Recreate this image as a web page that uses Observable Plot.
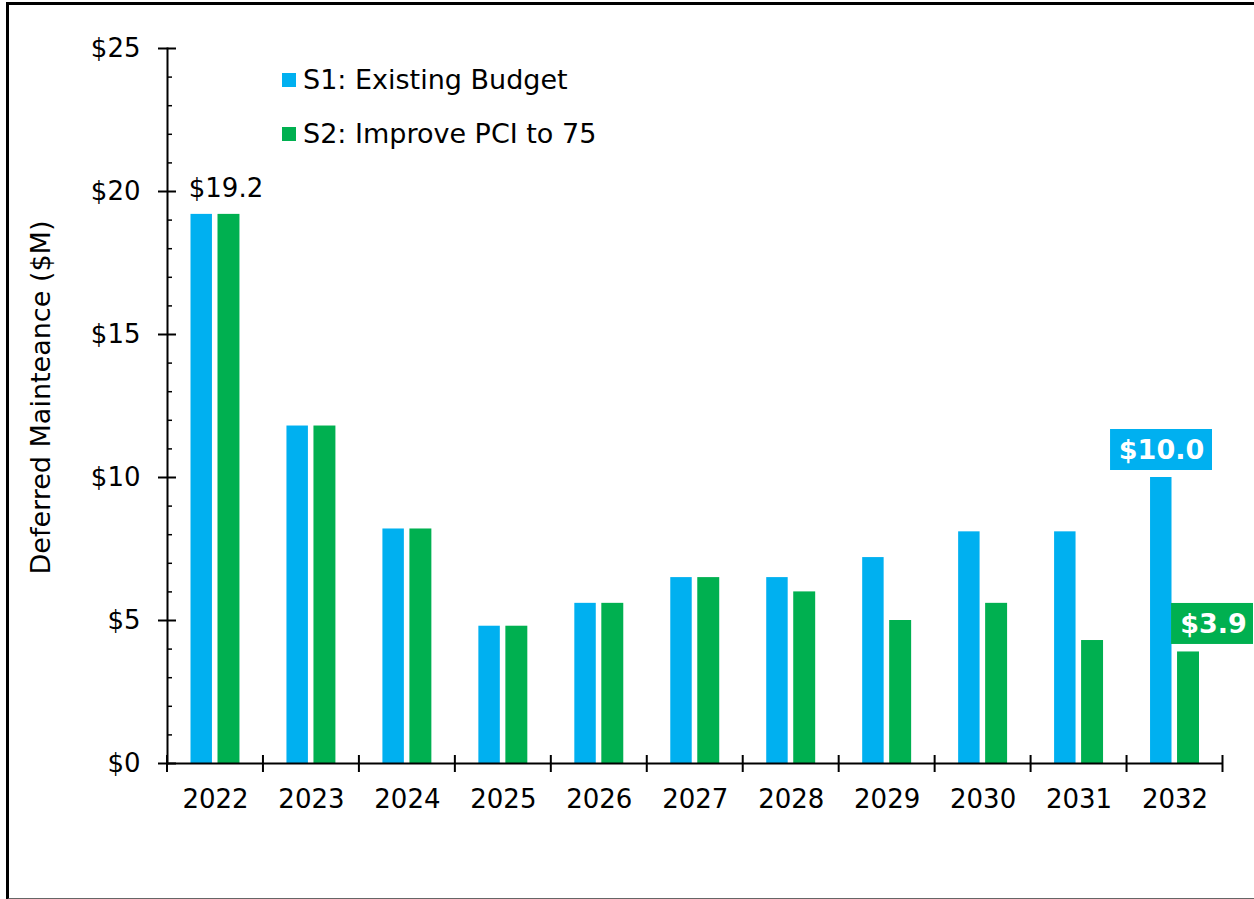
<!DOCTYPE html>
<html>
<head>
<meta charset="utf-8">
<script src="https://cdn.jsdelivr.net/npm/d3@7"></script>
<script src="https://cdn.jsdelivr.net/npm/@observablehq/plot@0.6"></script>
<style>
  html, body { margin: 0; padding: 0; background: #fff; }
  body { width: 1254px; height: 899px; position: relative; overflow: hidden; font-family: "DejaVu Sans", Verdana, sans-serif; }
  #frame { position: absolute; left: 6px; top: 2px; width: 1260px; height: 893px;
           border-top: 3px solid #000; border-left: 3px solid #000; border-bottom: 2px solid #666; pointer-events: none; }
  #chart { position: absolute; left: 0; top: 0; }
  .legend { position: absolute; left: 282px; font-size: 27px; line-height: 27px; color: #000; }
  .legend .sw { position: absolute; left: 0; width: 14px; height: 14px; }
  .legend .lab { position: absolute; left: 21px; white-space: nowrap; }
  g[aria-label="y-title"] text { letter-spacing: 1.2px; }
</style>
</head>
<body>
<div id="chart"></div>
<div id="legend"></div>
<div id="frame"></div>
<script>
// ---- data ----
const years = ["2022","2023","2024","2025","2026","2027","2028","2029","2030","2031","2032"];
const seriesNames = ["S1: Existing Budget", "S2: Improve PCI to 75"];
const seriesColors = ["#00B0F0", "#00B050"];
const s1Values = [19.2, 11.8, 8.2, 4.8, 5.6, 6.5, 6.5, 7.2, 8.1, 8.1, 10.0];
const s2Values = [19.2, 11.8, 8.2, 4.8, 5.6, 6.5, 6.0, 5.0, 5.6, 4.3, 3.9];
const yMajorTicks = [0, 5, 10, 15, 20, 25];
const yMinorTicks = [1,2,3,4,6,7,8,9,11,12,13,14,16,17,18,19,21,22,23,24];
const yTitle = "Deferred Mainteance ($M)";

const fmt = v => "$" + v.toFixed(1);
const s1 = years.map((year, i) => ({year, series: seriesNames[0], value: s1Values[i]}));
const s2 = years.map((year, i) => ({year, series: seriesNames[1], value: s2Values[i]}));
const plainLabel = [s2[0]];
const s1Callout = [s1[10]];
const s2Callout = [s2[10]];

// category boundary ticks on the x axis, positioned from the band scale
function boundaryTicks(index, scales, values, dims) {
  const y0 = scales.y(0);
  const xs = years.map(d => scales.x(d)).concat([dims.width - dims.marginRight]);
  const g = d3.create("svg:g").attr("stroke", "#000").attr("stroke-width", 2);
  g.selectAll("line").data(xs).join("line")
    .attr("x1", d => d).attr("x2", d => d)
    .attr("y1", y0 - 8).attr("y2", y0 + 9);
  return g.node();
}

const chart = Plot.plot({
  width: 1254,
  height: 899,
  marginLeft: 167,
  marginRight: 31.5,
  marginTop: 48,
  marginBottom: 136,
  style: {fontFamily: "DejaVu Sans, Verdana, sans-serif", fontSize: "26px", background: "transparent", overflow: "visible"},
  x: {type: "band", domain: years, padding: 0, round: false, label: null},
  y: {domain: [0, 25], label: null},
  color: {domain: seriesNames, range: seriesColors},
  marks: [
    Plot.barY(s1, {x: "year", y: "value", fill: "series", insetLeft: 23.5, insetRight: 51}),
    Plot.barY(s2, {x: "year", y: "value", fill: "series", insetLeft: 50.5, insetRight: 23.5}),
    // axes
    Plot.ruleY([0], {stroke: "#000", strokeWidth: 2}),
    Plot.frame({anchor: "left", stroke: "#000", strokeWidth: 2}),
    Plot.axisY({ticks: yMajorTicks, tickSize: 9, tickPadding: 18, tickFormat: d => "$" + d, fontSize: 26, fill: "#000", stroke: "#000", strokeWidth: 2, strokeOpacity: 1, label: null}),
    Plot.axisY({ticks: yMajorTicks, tickSize: 9, dx: 9, tickFormat: () => "", stroke: "#000", strokeWidth: 2, strokeOpacity: 1, label: null}),
    Plot.axisY({ticks: yMinorTicks, tickSize: 5, dx: 5, tickFormat: () => "", stroke: "#000", strokeWidth: 1.5, strokeOpacity: 1, label: null}),
    Plot.axisX({tickSize: 0, tickPadding: 26.5, fontSize: 26, fill: "#000", label: null}),
    boundaryTicks,
    Plot.text([yTitle], {frameAnchor: "left", rotate: -90, textAnchor: "middle", lineAnchor: "middle", dx: -126.3, dy: -8.5, fontSize: 27, fill: "#000", ariaLabel: "y-title"}),
    // data labels
    Plot.text(plainLabel, {x: "year", y: "value", text: d => fmt(d.value), dx: 10.5, dy: -17, lineAnchor: "bottom", fontSize: 26, fill: "#000"}),
    Plot.barY(s1Callout, {x: "year", y1: "value", y2: "value", fill: "series", insetLeft: -16.5, insetRight: 10.5, insetTop: -48, insetBottom: 7}),
    Plot.text(s1Callout, {x: "year", y: "value", text: d => fmt(d.value), dx: -13.5, dy: -27, lineAnchor: "middle", fontSize: 27, fontWeight: "bold", fill: "#fff"}),
    Plot.barY(s2Callout, {x: "year", y1: "value", y2: "value", fill: "series", insetLeft: 44.5, insetRight: -30.5, insetTop: -48.5, insetBottom: 7.5}),
    Plot.text(s2Callout, {x: "year", y: "value", text: d => fmt(d.value), dx: 38.5, dy: -27.5, lineAnchor: "middle", fontSize: 27, fontWeight: "bold", fill: "#fff"})
  ]
});
document.getElementById("chart").appendChild(chart);

// legend
const legend = document.getElementById("legend");
const legendTops = [73, 127];
seriesNames.forEach((name, i) => {
  const item = document.createElement("div");
  item.className = "legend";
  item.style.top = legendTops[i] + "px";
  const sw = document.createElement("div");
  sw.className = "sw";
  sw.style.background = seriesColors[i];
  sw.style.top = "0px";
  const lab = document.createElement("div");
  lab.className = "lab";
  lab.style.top = "-7px";
  lab.textContent = name;
  item.appendChild(sw);
  item.appendChild(lab);
  legend.appendChild(item);
});
</script>
</body>
</html>
